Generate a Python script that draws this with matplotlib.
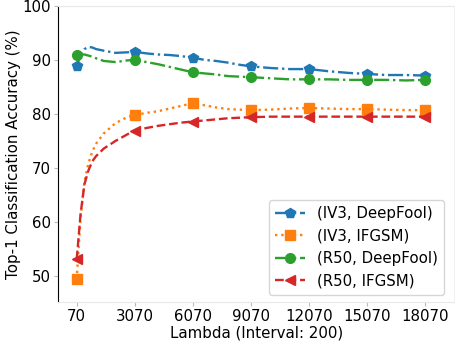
import matplotlib
matplotlib.use('Agg')
import matplotlib.pyplot as plt

# Lambda values (interval 200, sampled)
lam = [70, 270, 470, 670, 870, 1070, 1470, 2070, 2670, 3070, 3670, 4270, 4870, 5470,
       6070, 6670, 7270, 7870, 8470, 9070, 10070, 11070, 12070, 13070, 14070,
       15070, 16070, 17070, 18070]

iv3_deepfool = [88.8, 91.0, 92.0, 92.4, 92.3, 92.0, 91.7, 91.3, 91.4, 91.5, 91.2, 91.0,
                90.9, 90.7, 90.4, 90.0, 89.8, 89.5, 89.1, 88.8, 88.5, 88.3, 88.3, 87.9,
                87.6, 87.4, 87.2, 87.2, 87.1]
iv3_ifgsm = [49.4, 60.8, 67.5, 70.8, 73.0, 74.5, 76.4, 78.3, 79.4, 79.8, 80.2, 80.5,
             81.0, 81.5, 82.0, 81.6, 81.2, 80.9, 80.8, 80.7, 80.8, 81.0, 81.1, 81.0,
             80.9, 80.9, 80.8, 80.7, 80.7]
r50_deepfool = [90.9, 91.0, 91.0, 90.8, 90.6, 90.3, 89.8, 89.6, 89.9, 90.0, 89.6, 89.2,
                88.7, 88.2, 87.7, 87.5, 87.3, 87.0, 86.9, 86.8, 86.6, 86.4, 86.4, 86.4,
                86.3, 86.3, 86.3, 86.2, 86.3]
r50_ifgsm = [53.1, 61.5, 67.0, 69.5, 71.2, 72.2, 73.6, 75.0, 76.2, 76.9, 77.4, 77.8,
             78.1, 78.4, 78.6, 78.8, 79.0, 79.2, 79.3, 79.4, 79.5, 79.5, 79.5, 79.5,
             79.5, 79.5, 79.5, 79.5, 79.5]

ticks = [70, 3070, 6070, 9070, 12070, 15070, 18070]
marks = [lam.index(t) for t in ticks]

fig = plt.figure(figsize=(4.56, 3.44), dpi=100)
ax = fig.add_axes([0.127, 0.122, 0.871, 0.861])

ax.plot(lam, iv3_deepfool, '-.', color='tab:blue', marker='p', markersize=7,
        linewidth=1.7, markevery=marks, label='(IV3, DeepFool)')
ax.plot(lam, iv3_ifgsm, ':', color='tab:orange', marker='s', markersize=7,
        linewidth=1.7, markevery=marks, label='(IV3, IFGSM)')
ax.plot(lam, r50_deepfool, '-.', color='tab:green', marker='o', markersize=7,
        linewidth=1.7, markevery=marks, label='(R50, DeepFool)')
ax.plot(lam, r50_ifgsm, '--', color='tab:red', marker='<', markersize=7,
        linewidth=1.7, markevery=marks, label='(R50, IFGSM)')

ax.set_xlim(-900, 19600)
ax.set_ylim(45.2, 100)
ax.set_xticks(ticks)
ax.set_yticks([50, 60, 70, 80, 90, 100])
ax.tick_params(labelsize=10.8, color='#bbbbbb', length=3, pad=2)

for s in ['top', 'bottom']:
    ax.spines[s].set_color('#e8e8e8')
for s in ['left', 'right']:
    ax.spines[s].set_color('black')

ax.set_xlabel('Lambda (Interval: 200)', fontsize=10.8, labelpad=1)
ax.set_ylabel('Top-1 Classification Accuracy (%)', fontsize=10.8, labelpad=1)
ax.legend(loc='lower right', fontsize=10.8, bbox_to_anchor=(0.99, 0.0))

fig.savefig('out.png', dpi=100)
